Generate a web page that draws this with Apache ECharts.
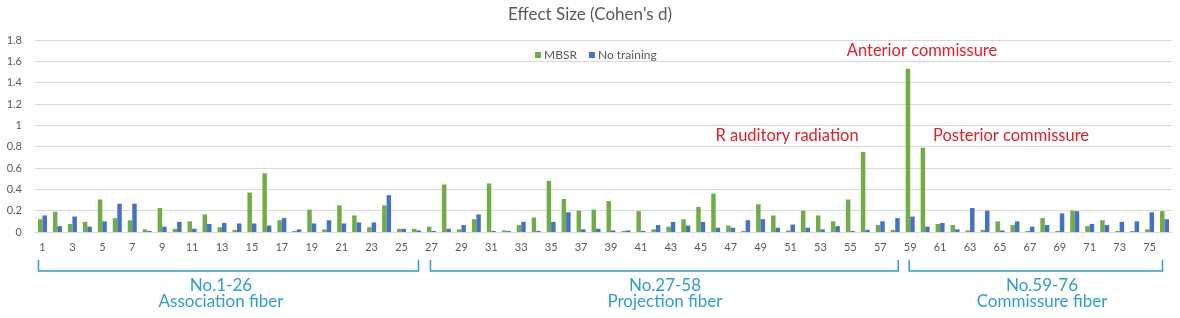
<!DOCTYPE html>
<html>
<head>
<meta charset="utf-8">
<script src="https://cdn.jsdelivr.net/npm/echarts@6/dist/echarts.min.js"></script>
<style>
html,body{margin:0;padding:0;background:#fff;}
#c{width:1180px;height:318px;}
</style>
</head>
<body>
<div id="c"></div>
<script>
var categories = [];
for (var i = 1; i <= 76; i++) categories.push(String(i));

var mbsr = [
  0.12,0.19,0.075,0.095,0.305,0.13,0.11,0.025,0.225,0.03,
  0.10,0.165,0.045,0.02,0.37,0.55,0.11,0.01,0.21,0.025,
  0.25,0.155,0.045,0.25,0.03,0.03,0.05,0.445,0.025,0.12,
  0.455,0.015,0.065,0.135,0.48,0.31,0.20,0.21,0.29,0.01,
  0.195,0.025,0.05,0.12,0.235,0.36,0.06,0.01,0.26,0.155,
  0.015,0.20,0.155,0.10,0.305,0.75,0.065,0.02,1.53,0.79,
  0.075,0.065,0.015,0.02,0.10,0.065,0.01,0.13,0.01,0.20,
  0.055,0.11,0.01,0.01,0.025,0.195
];
var noTraining = [
  0.155,0.055,0.145,0.05,0.10,0.265,0.265,0.01,0.05,0.095,
  0.03,0.075,0.085,0.08,0.08,0.06,0.13,0.025,0.08,0.11,
  0.08,0.09,0.09,0.345,0.03,0.015,0.01,0.03,0.065,0.165,
  0.01,0.01,0.095,0.01,0.095,0.185,0.025,0.03,0.015,0.015,
  0.01,0.065,0.095,0.06,0.095,0.04,0.04,0.11,0.12,0.04,
  0.07,0.04,0.025,0.055,0.01,0.02,0.10,0.13,0.145,0.05,
  0.085,0.025,0.225,0.20,0.015,0.10,0.05,0.065,0.175,0.195,
  0.075,0.065,0.095,0.10,0.185,0.12
];
var yTicks = [0, 0.2, 0.4, 0.6, 0.8, 1, 1.2, 1.4, 1.6, 1.8];
var groupFrom = [1, 27, 59];
var groupTo = [26, 58, 76];
var groupLine1 = ['No.1-26', 'No.27-58', 'No.59-76'];
var groupLine2 = ['Association fiber', 'Projection fiber', 'Commissure fiber'];
var annotationTexts = ['Anterior commissure', 'R auditory radiation', 'Posterior commissure'];

// layout (pixel placement, not data)
var bracketPad = [[-4, 2], [-1, 3], [-1, -2]];
var groupTextX = [221, 665, 1042];
var annotationPos = [[922, 51], [787, 136], [1011, 136]];

var FONT = 'Lato, "Open Sans", sans-serif';
var chart = echarts.init(document.getElementById('c'), null, {renderer: 'canvas'});
var option = {
  animation: false,
  backgroundColor: '#fff',
  title: {
    text: 'Effect Size (Cohen\'s d)',
    left: 'center', top: 1,
    textStyle: {color: '#595959', fontSize: 17, fontWeight: 'normal', fontFamily: FONT}
  },
  legend: {
    data: ['MBSR', 'No training'],
    left: 530, top: 44,
    itemWidth: 6, itemHeight: 6, itemGap: 12,
    icon: 'rect',
    textStyle: {color: '#595959', fontSize: 12, fontFamily: FONT, padding: [0,0,0,-2]}
  },
  grid: {left: 35, right: 8, top: 40, bottom: 86, containLabel: false},
  xAxis: {
    type: 'category',
    data: categories,
    axisLine: {show: true, lineStyle: {color: '#D9D9D9'}},
    axisTick: {show: false},
    axisLabel: {interval: 1, color: '#595959', fontSize: 11, fontFamily: FONT, margin: 10}
  },
  yAxis: {
    type: 'value',
    min: 0, max: 1.8, interval: 0.2,
    axisLine: {show: false},
    axisTick: {show: false},
    splitLine: {lineStyle: {color: '#D9D9D9'}},
    axisLabel: {
      color: '#595959', fontSize: 11, fontFamily: FONT, margin: 13,
      formatter: function (v) {
        var r = Math.round(v * 10) / 10;
        for (var k = 0; k < yTicks.length; k++) if (Math.abs(yTicks[k] - r) < 1e-9) return String(yTicks[k]);
        return '';
      }
    }
  },
  series: [
    {name: 'MBSR', type: 'bar', data: mbsr, itemStyle: {color: '#70AD47'}, barGap: '0%', barCategoryGap: '40%'},
    {name: 'No training', type: 'bar', data: noTraining, itemStyle: {color: '#4472C4'}, barGap: '0%', barCategoryGap: '40%'}
  ]
};
chart.setOption(option);

var elements = [];
var BLUE = '#2E9DD3';
for (var g = 0; g < groupFrom.length; g++) {
  var x1 = chart.convertToPixel({xAxisIndex: 0}, String(groupFrom[g])) + bracketPad[g][0];
  var x2 = chart.convertToPixel({xAxisIndex: 0}, String(groupTo[g])) + bracketPad[g][1];
  var yTop = 260, yBot = 271;
  elements.push({
    type: 'polyline',
    shape: {points: [[x1, yTop], [x1, yBot], [x2, yBot], [x2, yTop]]},
    style: {stroke: BLUE, lineWidth: 1.5, fill: null}
  });
  elements.push({
    type: 'text', x: groupTextX[g], y: 286,
    style: {text: groupLine1[g], fill: BLUE, fontSize: 17, fontFamily: FONT, align: 'center', verticalAlign: 'middle'}
  });
  elements.push({
    type: 'text', x: groupTextX[g], y: 302,
    style: {text: groupLine2[g], fill: BLUE, fontSize: 17, fontFamily: FONT, align: 'center', verticalAlign: 'middle'}
  });
}
for (var a = 0; a < annotationTexts.length; a++) {
  elements.push({
    type: 'text', x: annotationPos[a][0], y: annotationPos[a][1],
    style: {text: annotationTexts[a], fill: '#E41E26', fontSize: 16.5, fontFamily: FONT, align: 'center', verticalAlign: 'middle'}
  });
}
chart.setOption({graphic: {elements: elements}});
</script>
</body>
</html>
